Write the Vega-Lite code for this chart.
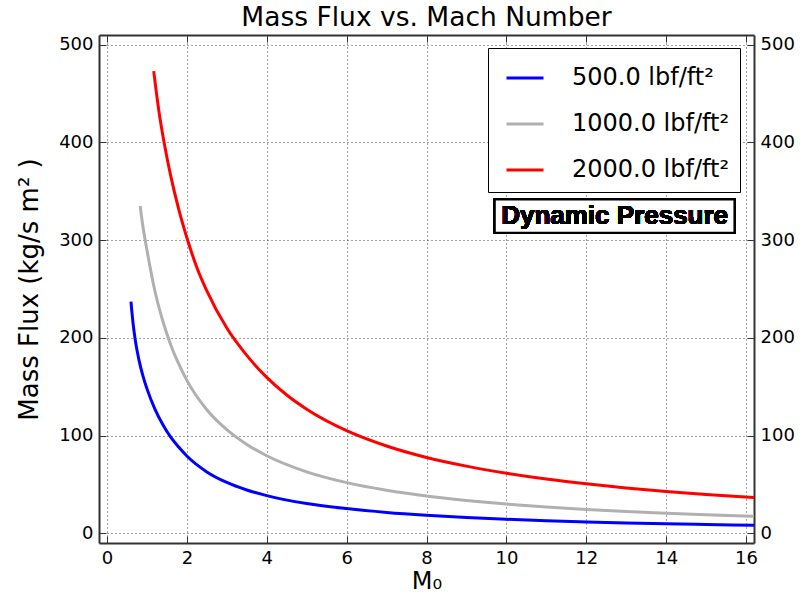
{
  "$schema": "https://vega.github.io/schema/vega-lite/v6.json",
  "width": 655,
  "height": 508,
  "autosize": {"type": "none"},
  "padding": {"left": 99, "top": 35, "right": 53, "bottom": 51},
  "background": "white",
  "title": {"text": "Mass Flux vs. Mach Number", "font": "DejaVu Sans", "fontSize": 26.5, "fontWeight": "normal", "color": "black", "baseline": "alphabetic", "offset": 7, "dy": 25, "anchor": "middle", "frame": "group"},
  "config": {"view": {"stroke": null}, "font": "DejaVu Sans"},
  "data": {"values": [
    {"M": 0.6, "flux": 237, "q": "500.0 lbf/ft²"},
    {"M": 0.65, "flux": 216, "q": "500.0 lbf/ft²"},
    {"M": 0.7, "flux": 200, "q": "500.0 lbf/ft²"},
    {"M": 0.8, "flux": 177.5, "q": "500.0 lbf/ft²"},
    {"M": 0.9, "flux": 161, "q": "500.0 lbf/ft²"},
    {"M": 1.0, "flux": 148, "q": "500.0 lbf/ft²"},
    {"M": 1.2, "flux": 127, "q": "500.0 lbf/ft²"},
    {"M": 1.4, "flux": 111, "q": "500.0 lbf/ft²"},
    {"M": 1.6, "flux": 98, "q": "500.0 lbf/ft²"},
    {"M": 1.8, "flux": 88, "q": "500.0 lbf/ft²"},
    {"M": 2.0, "flux": 79, "q": "500.0 lbf/ft²"},
    {"M": 2.5, "flux": 62.8, "q": "500.0 lbf/ft²"},
    {"M": 3.0, "flux": 52, "q": "500.0 lbf/ft²"},
    {"M": 3.5, "flux": 44.3, "q": "500.0 lbf/ft²"},
    {"M": 4.0, "flux": 38.5, "q": "500.0 lbf/ft²"},
    {"M": 5.0, "flux": 30.4, "q": "500.0 lbf/ft²"},
    {"M": 6.0, "flux": 25.2, "q": "500.0 lbf/ft²"},
    {"M": 7.0, "flux": 21.3, "q": "500.0 lbf/ft²"},
    {"M": 8.0, "flux": 18.4, "q": "500.0 lbf/ft²"},
    {"M": 9.0, "flux": 16.1, "q": "500.0 lbf/ft²"},
    {"M": 10.0, "flux": 14.3, "q": "500.0 lbf/ft²"},
    {"M": 11.0, "flux": 12.8, "q": "500.0 lbf/ft²"},
    {"M": 12.0, "flux": 11.6, "q": "500.0 lbf/ft²"},
    {"M": 13.0, "flux": 10.5, "q": "500.0 lbf/ft²"},
    {"M": 14.0, "flux": 9.6, "q": "500.0 lbf/ft²"},
    {"M": 15.0, "flux": 8.9, "q": "500.0 lbf/ft²"},
    {"M": 16.2, "flux": 8.1, "q": "500.0 lbf/ft²"},
    {"M": 0.83, "flux": 335, "q": "1000.0 lbf/ft²"},
    {"M": 0.9, "flux": 314, "q": "1000.0 lbf/ft²"},
    {"M": 1.0, "flux": 290, "q": "1000.0 lbf/ft²"},
    {"M": 1.2, "flux": 248, "q": "1000.0 lbf/ft²"},
    {"M": 1.4, "flux": 217, "q": "1000.0 lbf/ft²"},
    {"M": 1.6, "flux": 192.5, "q": "1000.0 lbf/ft²"},
    {"M": 1.8, "flux": 173, "q": "1000.0 lbf/ft²"},
    {"M": 2.0, "flux": 156.5, "q": "1000.0 lbf/ft²"},
    {"M": 2.5, "flux": 126.4, "q": "1000.0 lbf/ft²"},
    {"M": 3.0, "flux": 106, "q": "1000.0 lbf/ft²"},
    {"M": 3.5, "flux": 90.9, "q": "1000.0 lbf/ft²"},
    {"M": 4.0, "flux": 79.3, "q": "1000.0 lbf/ft²"},
    {"M": 5.0, "flux": 62.8, "q": "1000.0 lbf/ft²"},
    {"M": 6.0, "flux": 51.8, "q": "1000.0 lbf/ft²"},
    {"M": 7.0, "flux": 44, "q": "1000.0 lbf/ft²"},
    {"M": 8.0, "flux": 38.1, "q": "1000.0 lbf/ft²"},
    {"M": 9.0, "flux": 33.6, "q": "1000.0 lbf/ft²"},
    {"M": 10.0, "flux": 29.9, "q": "1000.0 lbf/ft²"},
    {"M": 11.0, "flux": 26.9, "q": "1000.0 lbf/ft²"},
    {"M": 12.0, "flux": 24.4, "q": "1000.0 lbf/ft²"},
    {"M": 13.0, "flux": 22.3, "q": "1000.0 lbf/ft²"},
    {"M": 14.0, "flux": 20.5, "q": "1000.0 lbf/ft²"},
    {"M": 15.0, "flux": 18.9, "q": "1000.0 lbf/ft²"},
    {"M": 16.2, "flux": 17.3, "q": "1000.0 lbf/ft²"},
    {"M": 1.17, "flux": 473, "q": "2000.0 lbf/ft²"},
    {"M": 1.3, "flux": 432, "q": "2000.0 lbf/ft²"},
    {"M": 1.43, "flux": 400, "q": "2000.0 lbf/ft²"},
    {"M": 1.6, "flux": 365, "q": "2000.0 lbf/ft²"},
    {"M": 1.8, "flux": 331, "q": "2000.0 lbf/ft²"},
    {"M": 2.0, "flux": 302.5, "q": "2000.0 lbf/ft²"},
    {"M": 2.25, "flux": 272, "q": "2000.0 lbf/ft²"},
    {"M": 2.5, "flux": 248, "q": "2000.0 lbf/ft²"},
    {"M": 3.0, "flux": 210, "q": "2000.0 lbf/ft²"},
    {"M": 3.5, "flux": 182, "q": "2000.0 lbf/ft²"},
    {"M": 4.0, "flux": 159.5, "q": "2000.0 lbf/ft²"},
    {"M": 4.5, "flux": 141.5, "q": "2000.0 lbf/ft²"},
    {"M": 5.0, "flux": 127, "q": "2000.0 lbf/ft²"},
    {"M": 6.0, "flux": 105, "q": "2000.0 lbf/ft²"},
    {"M": 7.0, "flux": 89.3, "q": "2000.0 lbf/ft²"},
    {"M": 8.0, "flux": 77.6, "q": "2000.0 lbf/ft²"},
    {"M": 9.0, "flux": 68.7, "q": "2000.0 lbf/ft²"},
    {"M": 10.0, "flux": 61.5, "q": "2000.0 lbf/ft²"},
    {"M": 11.0, "flux": 55.5, "q": "2000.0 lbf/ft²"},
    {"M": 12.0, "flux": 50.6, "q": "2000.0 lbf/ft²"},
    {"M": 13.0, "flux": 46.4, "q": "2000.0 lbf/ft²"},
    {"M": 14.0, "flux": 42.8, "q": "2000.0 lbf/ft²"},
    {"M": 15.0, "flux": 39.7, "q": "2000.0 lbf/ft²"},
    {"M": 16.2, "flux": 36.5, "q": "2000.0 lbf/ft²"}
  ]},
  "layer": [
    {
      "mark": {"type": "line", "strokeWidth": 3, "interpolate": "monotone"},
      "encoding": {
        "x": {"field": "M", "type": "quantitative",
          "scale": {"domain": [-0.2, 16.2], "nice": false, "zero": false},
          "axis": {"orient": "bottom", "values": [0, 2, 4, 6, 8, 10, 12, 14, 16], "title": "M₀",
            "titleFont": "DejaVu Sans", "titleFontSize": 24, "titleFontWeight": "normal", "titleColor": "black", "titlePadding": 2,
            "labelFont": "DejaVu Sans", "labelFontSize": 18, "labelColor": "black", "labelPadding": 13, "labelFlush": false,
            "tickSize": -7, "tickColor": "#333", "tickWidth": 1,
            "domainColor": "#333", "domainWidth": 2,
            "grid": true, "gridDash": [1, 3], "gridColor": "#444", "gridWidth": 1}},
        "y": {"field": "flux", "type": "quantitative",
          "scale": {"domain": [-10, 510], "nice": false, "zero": false},
          "axis": {"orient": "left", "values": [0, 100, 200, 300, 400, 500], "title": "Mass Flux (kg/s m² )",
            "titleFont": "DejaVu Sans", "titleFontSize": 26, "titleFontWeight": "normal", "titleColor": "black", "titlePadding": 16,
            "labelFont": "DejaVu Sans", "labelFontSize": 18, "labelColor": "black", "labelPadding": 13, "labelFlush": false,
            "tickSize": -7, "tickColor": "#333", "tickWidth": 1,
            "domainColor": "#333", "domainWidth": 2,
            "grid": true, "gridDash": [1, 3], "gridColor": "#444", "gridWidth": 1}},
        "color": {"field": "q", "type": "nominal",
          "scale": {"domain": ["500.0 lbf/ft²", "1000.0 lbf/ft²", "2000.0 lbf/ft²"], "range": ["#0000ff", "#b0b0b0", "#ff0000"]},
          "legend": {"orient": "none", "legendX": 389, "legendY": 13, "title": null,
            "symbolType": "stroke", "symbolSize": 1369, "symbolStrokeWidth": 3, "symbolOffset": 7,
            "labelFont": "DejaVu Sans", "labelFontSize": 24, "labelColor": "black", "labelOffset": 27, "labelLimit": 400,
            "rowPadding": 14, "padding": 10, "strokeColor": "black", "fillColor": "white"}}
      }
    },
    {
      "mark": {"type": "rect", "fill": "white", "stroke": "black", "strokeWidth": 2},
      "encoding": {
        "x": {"datum": 9.71, "type": "quantitative", "axis": null},
        "x2": {"datum": 15.71},
        "y": {"datum": 341.7, "type": "quantitative", "axis": null},
        "y2": {"datum": 307.5}
      }
    },
    {
      "mark": {"type": "text", "font": "Liberation Sans", "fontWeight": "bold", "fontSize": 26, "color": "black", "align": "center", "baseline": "middle"},
      "encoding": {
        "x": {"datum": 12.71, "type": "quantitative", "axis": null},
        "y": {"datum": 324.6, "type": "quantitative", "axis": null},
        "text": {"value": "Dynamic Pressure"}
      }
    },
    {
      "mark": {"type": "point", "opacity": 0},
      "encoding": {
        "x": {"field": "M", "type": "quantitative",
          "axis": {"orient": "top", "values": [0, 2, 4, 6, 8, 10, 12, 14, 16], "title": null, "labels": false,
            "tickSize": -7, "tickColor": "#333", "tickWidth": 1, "domainColor": "#333", "domainWidth": 2, "grid": false}},
        "y": {"field": "flux", "type": "quantitative",
          "axis": {"orient": "right", "values": [0, 100, 200, 300, 400, 500], "title": null,
            "labelFont": "DejaVu Sans", "labelFontSize": 18, "labelColor": "black", "labelPadding": 13, "labelFlush": false,
            "tickSize": -7, "tickColor": "#333", "tickWidth": 1, "domainColor": "#333", "domainWidth": 2, "grid": false}}
      }
    }
  ],
  "resolve": {"axis": {"x": "independent", "y": "independent"}}
}
